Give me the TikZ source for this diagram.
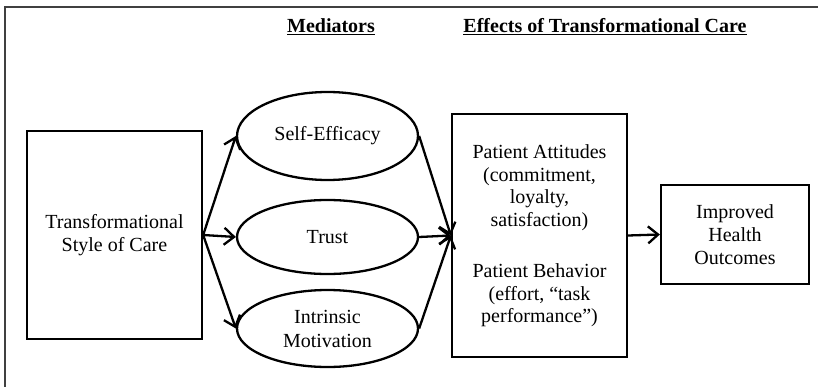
\documentclass[tikz,border=0pt]{standalone}
\usepackage{fontspec}
\setmainfont{Liberation Serif}
\usetikzlibrary{arrows.meta,shapes.geometric}
\begin{document}
\begin{tikzpicture}[x=1pt,y=-1pt,
  every node/.style={font=\fontsize{20}{23}\selectfont},
  box/.style={draw,line width=2.3pt,inner sep=0pt},
  oval/.style={draw,ellipse,line width=2.3pt,inner sep=0pt,minimum width=181pt},
  heading/.style={font=\fontsize{20}{23}\selectfont\bfseries},
  arr/.style={line width=2.3pt,-{Straight Barb[length=10pt,width=17pt,line width=2.3pt]}}]
\useasboundingbox (0,0) rectangle (818,387);
% outer frame (top and left rules)
\draw[line width=2pt,black!75] (5,387) -- (5,7) -- (818,7);
% column headings
\node[heading,anchor=base] (hmed) at (331,33) {\underline{Mediators}};
\node[heading,anchor=base] (heff) at (605,33) {\underline{Effects of Transformational Care}};
% source box
\node[box,minimum width=175pt,minimum height=208pt,align=center] (src) at (114.5,235)
  {Transformational\\Style of Care};
% mediators
\node[oval,minimum height=88pt] (se) at (327.5,136) {Self-Efficacy};
\node[oval,minimum height=74pt] (tr) at (327.5,237) {Trust};
\node[oval,minimum height=77pt,align=center] (im) at (327.5,328.5) {Intrinsic\\[1pt]Motivation};
% effects box
\node[box,minimum width=175pt,minimum height=243pt] (eff) at (539.5,235.5) {};
\node[align=center,font=\fontsize{20}{22.5}\selectfont] (efftxt) at (539.5,236)
  {Patient Attitudes\\(commitment,\\loyalty,\\satisfaction)\\[29pt]Patient Behavior\\(effort, “task\\performance”)};
% outcome box
\node[box,minimum width=148pt,minimum height=99pt,align=center] (out) at (735,234.5)
  {Improved\\Health\\Outcomes};
% connectors
\coordinate (srcout) at (src.east);
\draw[arr] (srcout) -- (se.west);
\draw[arr] (srcout) -- (tr.west);
\draw[arr] (srcout) -- (im.west);
\coordinate (effin) at (eff.west);
\draw[arr] (se.east) -- (effin);
\draw[arr] (im.east) -- (effin);
\draw[arr] (tr.east) -- (effin);
\draw[arr] (eff.east) -- (out.west);
\end{tikzpicture}
\end{document}
